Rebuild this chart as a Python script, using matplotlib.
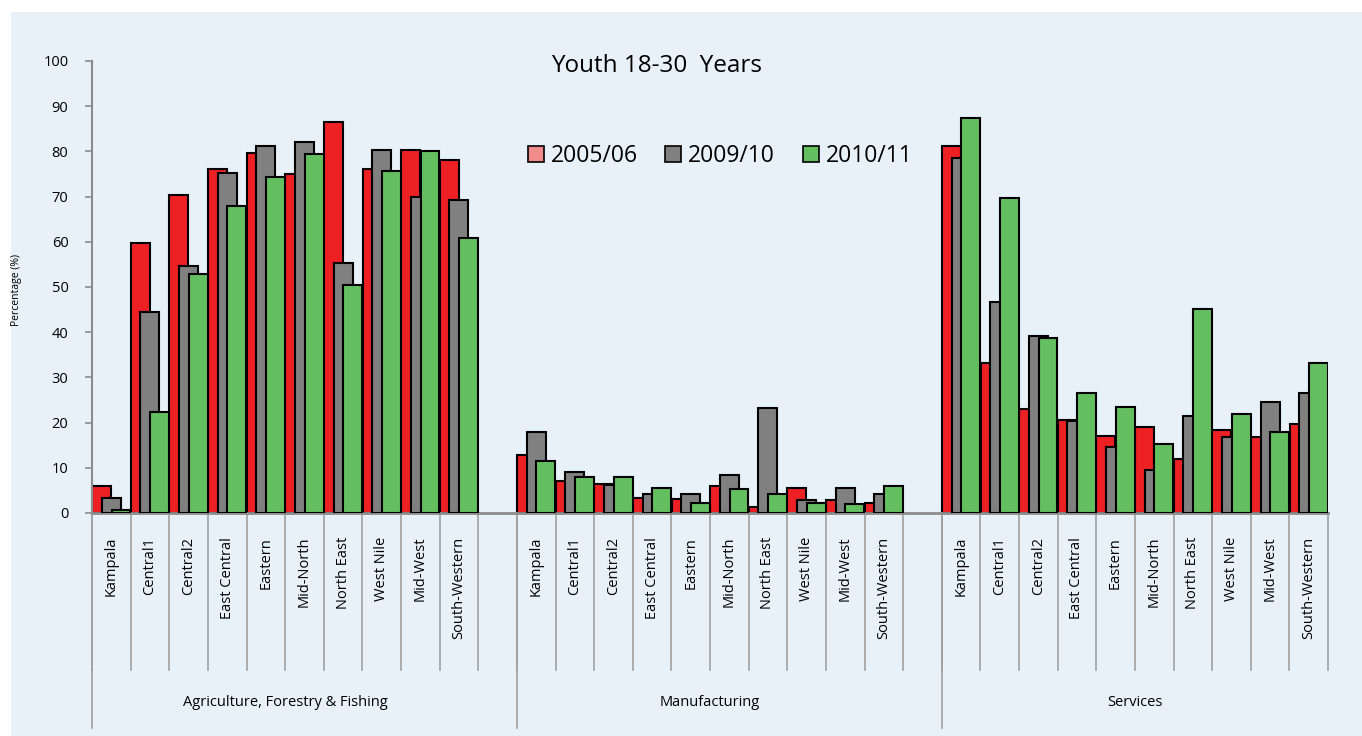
import numpy as np
import matplotlib.pyplot as plt
from matplotlib.patches import Patch, Rectangle

plt.rcParams['font.family'] = ['Open Sans', 'DejaVu Sans']

regions = ['Kampala', 'Central1', 'Central2', 'East Central', 'Eastern',
           'Mid-North', 'North East', 'West Nile', 'Mid-West', 'South-Western']
sectors = ['Agriculture, Forestry & Fishing', 'Manufacturing', 'Services']
years = ['2005/06', '2009/10', '2010/11']

# values (percent)
agri_0506 = [6.0, 59.7, 70.4, 76.1, 79.7, 75.1, 86.6, 76.2, 80.2, 78.0]
agri_0910 = [3.3, 44.4, 54.7, 75.2, 81.1, 82.1, 55.3, 80.2, 69.9, 69.2]
agri_1011 = [0.7, 22.3, 52.9, 67.9, 74.3, 79.4, 50.5, 75.7, 80.0, 60.9]

manu_0506 = [12.8, 7.1, 6.4, 3.3, 3.2, 5.9, 1.4, 5.5, 2.9, 2.2]
manu_0910 = [18.0, 9.1, 6.2, 4.3, 4.3, 8.3, 23.3, 2.8, 5.5, 4.3]
manu_1011 = [11.6, 8.0, 8.0, 5.5, 2.3, 5.3, 4.1, 2.3, 1.9, 5.9]

serv_0506 = [81.1, 33.2, 23.0, 20.6, 17.1, 19.0, 12.0, 18.3, 16.9, 19.7]
serv_0910 = [78.6, 46.6, 39.1, 20.3, 14.6, 9.6, 21.5, 16.9, 24.6, 26.5]
serv_1011 = [87.4, 69.6, 38.8, 26.6, 23.4, 15.3, 45.2, 21.9, 17.9, 33.2]

series = [agri_0506 + manu_0506 + serv_0506,
          agri_0910 + manu_0910 + serv_0910,
          agri_1011 + manu_1011 + serv_1011]
colors = ['#ed2024', '#808080', '#64bf60']

W, H = 1362, 736
fig = plt.figure(figsize=(W / 100, H / 100), dpi=100, facecolor='white')
fig.patches.append(Rectangle((11 / W, 0), 1, 1 - 12 / H, transform=fig.transFigure,
                             facecolor='#e9f1f8', edgecolor='none', zorder=-10))

ax = fig.add_axes([92 / W, (H - 513) / H, 1236 / W, 452 / H])
ax.set_facecolor('none')

n = len(regions)
slots = np.array([s * (n + 1) + r for s in range(len(sectors)) for r in range(n)])

for k, (vals, col) in enumerate(zip(series, colors)):
    ax.bar(slots + 0.25 + 0.25 * k, vals, width=0.49, color=col,
           edgecolor='black', linewidth=1.5, zorder=2 + k)

ax.set_xlim(0, len(sectors) * (n + 1) - 1)
ax.set_ylim(0, 100)
ax.set_yticks(np.arange(0, 101, 10))
ax.tick_params(axis='y', length=5, width=1.2, color='#8c8c8c', pad=12, labelsize=10.5)
ax.set_xticks([])
for side in ['top', 'right']:
    ax.spines[side].set_visible(False)
ax.spines['left'].set_color('#8c8c8c')
ax.spines['left'].set_linewidth(1.5)
ax.spines['bottom'].set_color('#8c8c8c')
ax.spines['bottom'].set_linewidth(2)

# category axis: region labels, tick lines, sector labels
trans = ax.get_xaxis_transform()
for s, sec in enumerate(sectors):
    start = s * (n + 1)
    for b in range(n + 1):
        ax.plot([start + b, start + b], [0, -0.347], transform=trans,
                color='#a0a0a0', lw=1.2, clip_on=False)
    ax.plot([start, start], [0, -0.476], transform=trans,
            color='#a0a0a0', lw=1.2, clip_on=False)
    for r, reg in enumerate(regions):
        ax.text(start + r + 0.5, -0.053, reg, transform=trans, rotation=90,
                ha='center', va='top', fontsize=10.5)
    ax.text(start + n / 2, -0.42, sec, transform=trans, ha='center',
            va='center', fontsize=10.5)

fig.text(16 / W, (H - 290) / H, 'Percentage (%)', rotation=90, ha='center',
         va='center', fontsize=7.5)
fig.text(657 / W, (H - 66) / H, 'Youth 18-30  Years', ha='center', va='center',
         fontsize=17.5)

handles = [Patch(facecolor='#f28c8c', edgecolor='black', linewidth=1.2),
           Patch(facecolor=colors[1], edgecolor='black', linewidth=1.2),
           Patch(facecolor=colors[2], edgecolor='black', linewidth=1.2)]
fig.legend(handles, years, loc='center', bbox_to_anchor=(720 / W, (H - 156) / H),
           ncol=3, frameon=False, fontsize=16.5, handlelength=0.7, handleheight=0.7,
           handletextpad=0.3, columnspacing=1.2)

fig.savefig('out.png', dpi=100, facecolor=fig.get_facecolor())
